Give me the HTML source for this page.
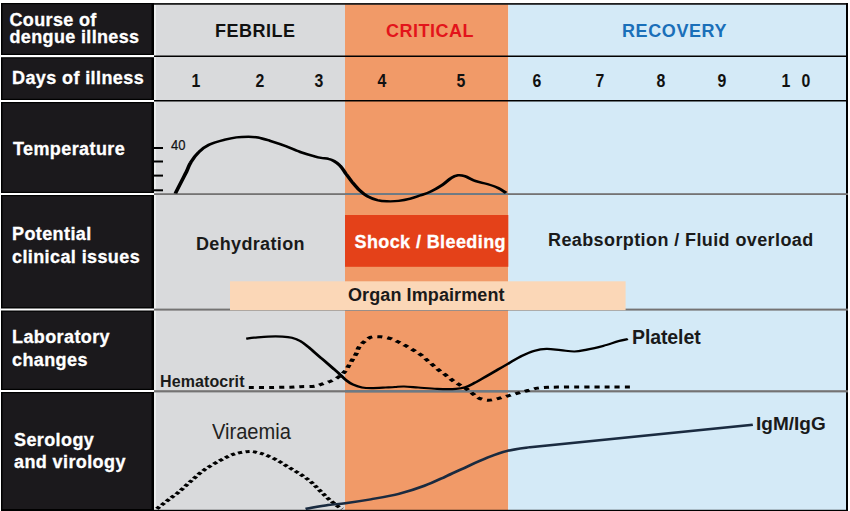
<!DOCTYPE html>
<html><head><meta charset="utf-8">
<style>
html,body{margin:0;padding:0;background:#fff;}
body{width:850px;height:511px;position:relative;overflow:hidden;font-family:"Liberation Sans",sans-serif;}
.a{position:absolute;white-space:nowrap;line-height:1;}
.lab{color:#fff;font-weight:bold;font-size:18px;letter-spacing:0.4px;-webkit-text-stroke:0.3px #fff;}
.hd{font-weight:bold;font-size:18px;letter-spacing:0.5px;}
.dg{font-weight:bold;font-size:18px;color:#111;width:40px;text-align:center;transform:scaleX(0.88);}
.bt{font-weight:bold;font-size:18px;color:#1a1a1a;letter-spacing:0.4px;}
svg{position:absolute;left:0;top:0;}
</style></head><body>
<svg width="850" height="511" viewBox="0 0 850 511">
  <!-- column backgrounds -->
  <rect x="154" y="3" width="191" height="508" fill="#d9dadc"/>
  <rect x="345" y="3" width="163.3" height="508" fill="#f19a68"/>
  <rect x="508.3" y="3" width="338" height="508" fill="#d4eaf7"/>
  <rect x="154" y="5" width="2" height="505" fill="#eceeee"/>
  <!-- left dark column -->
  <rect x="1" y="3" width="153" height="508" fill="#000"/>
  <rect x="2.5" y="4.2" width="149" height="49.6" fill="#1b191c"/>
  <rect x="2.5" y="58.4" width="149" height="40.4" fill="#1b191c"/>
  <rect x="2.5" y="103.2" width="149" height="88.6" fill="#1b191c"/>
  <rect x="2.5" y="196.2" width="149" height="111" fill="#1b191c"/>
  <rect x="2.5" y="311.7" width="149" height="77.1" fill="#1b191c"/>
  <rect x="2.5" y="393.2" width="149" height="115.8" fill="#1b191c"/>
  <rect x="1" y="55" width="153" height="2.2" fill="#fff"/>
  <rect x="1" y="100" width="153" height="2" fill="#fff"/>
  <rect x="1" y="193" width="153" height="2" fill="#fff"/>
  <rect x="1" y="308.5" width="153" height="2" fill="#fff"/>
  <rect x="1" y="390" width="153" height="2" fill="#fff"/>
  <!-- horizontal lines main -->
  <rect x="154" y="3" width="694" height="1.8" fill="#1e1e1e"/>
  <rect x="154" y="55.5" width="692" height="1.5" fill="#000"/>
  <rect x="154" y="100" width="692" height="1.5" fill="#000"/>
  <rect x="154" y="509.8" width="694" height="1.2" fill="#000"/>
  <rect x="846" y="3" width="2" height="508" fill="#000"/>
  <g id="gl">
  <rect x="154" y="193.2" width="694" height="1.8" fill="#747373"/>
  <rect x="154" y="308.6" width="694" height="2" fill="#747373"/>
  <rect x="154" y="390.2" width="694" height="2.2" fill="#747373"/>
  <rect x="345" y="193.2" width="163.3" height="1.8" fill="#6c7a86"/>
  <rect x="345" y="308.6" width="163.3" height="2" fill="#6c7a86"/>
  <rect x="345" y="390.2" width="163.3" height="2.2" fill="#6c7a86"/>
  </g>
  <!-- potential issues boxes -->
  <rect x="345" y="215" width="163.3" height="51.8" fill="#e44119"/>
  <rect x="230" y="281.3" width="395.6" height="28.9" fill="#fbd7b7"/>
  <!-- temperature ticks -->
  <rect x="154" y="147" width="9" height="2" fill="#000"/>
  <rect x="154" y="160.5" width="9" height="2" fill="#000"/>
  <rect x="154" y="174.6" width="9" height="2" fill="#000"/>
  <rect x="154" y="189.3" width="9" height="2" fill="#000"/>
  <!-- curves -->
<g transform="scale(1.57,1)" fill="none" stroke-linecap="butt" stroke-linejoin="round">
<path d="M111.7,193.5 C112.8,189.9 117.0,177.2 118.7,172.0 C120.3,166.8 120.1,165.7 121.5,162.4 C122.8,159.1 124.6,155.0 126.6,152.1 C128.5,149.2 130.3,146.9 133.1,144.8 C135.9,142.7 140.4,140.9 143.3,139.7 C146.2,138.5 148.1,137.9 150.6,137.4 C153.1,136.9 156.0,136.8 158.3,136.8 C160.6,136.8 162.0,136.8 164.3,137.5 C166.6,138.2 169.0,139.4 172.0,140.8 C174.9,142.2 178.8,144.2 182.2,146.2 C185.6,148.2 189.3,150.9 192.4,152.6 C195.4,154.3 198.2,155.4 200.3,156.3 C202.3,157.2 203.1,157.5 204.6,157.9 C206.1,158.3 207.9,158.4 209.2,158.9 C210.6,159.4 211.5,159.9 212.7,161.0 C213.9,162.1 215.2,163.3 216.4,165.4 C217.7,167.5 219.1,171.0 220.3,173.7 C221.6,176.4 222.6,178.7 224.0,181.5 C225.5,184.3 227.4,187.9 229.0,190.3 C230.7,192.8 232.1,194.6 234.0,196.2 C235.9,197.8 238.2,199.2 240.3,200.1 C242.3,200.9 244.2,201.2 246.4,201.3 C248.7,201.4 251.5,201.4 253.9,200.9 C256.4,200.4 259.1,199.5 261.4,198.6 C263.7,197.7 265.3,196.7 267.5,195.5 C269.7,194.3 272.3,193.2 274.6,191.4 C277.0,189.6 279.6,187.2 281.8,184.9 C283.9,182.7 285.8,179.5 287.5,177.9 C289.1,176.3 290.3,175.6 291.7,175.3 C293.1,175.0 294.1,175.2 296.0,176.2 C297.9,177.2 300.7,179.9 303.1,181.2 C305.5,182.5 307.9,182.9 310.3,184.0 C312.6,185.1 315.3,186.4 317.3,187.9 C319.3,189.4 321.5,192.1 322.4,192.9" stroke="#000" stroke-width="2.45"/>
<path d="M156.8,338.6 C157.6,338.5 159.5,338.0 161.8,337.7 C164.2,337.4 167.8,336.8 170.8,336.6 C173.8,336.4 177.4,336.4 179.9,336.6 C182.4,336.8 184.0,337.0 185.9,337.7 C187.7,338.4 189.5,339.5 191.2,341.0 C192.9,342.5 193.8,343.7 196.1,346.6 C198.3,349.5 202.2,354.9 205.0,358.6 C207.7,362.3 210.6,366.3 212.6,369.0 C214.6,371.7 215.5,372.9 216.8,374.8 C218.1,376.7 219.2,378.5 220.4,380.1 C221.7,381.7 222.9,383.2 224.6,384.4 C226.3,385.6 228.6,386.9 230.6,387.5 C232.6,388.1 234.1,388.1 236.6,388.1 C239.1,388.1 243.1,387.7 245.6,387.5 C248.1,387.3 249.6,387.2 251.6,387.0 C253.6,386.8 254.9,386.4 257.4,386.5 C259.9,386.6 262.9,387.1 266.4,387.5 C269.9,387.9 274.4,388.7 278.4,388.9 C282.4,389.1 287.4,389.2 290.4,388.9 C293.4,388.6 294.3,388.3 296.4,387.3 C298.4,386.3 300.2,384.6 302.5,382.7 C304.9,380.8 307.7,378.1 310.2,375.9 C312.7,373.7 315.0,371.5 317.3,369.4 C319.7,367.3 321.8,365.4 324.2,363.2 C326.6,361.0 329.2,358.3 331.8,356.3 C334.5,354.3 337.3,352.2 340.0,351.0 C342.7,349.8 345.2,349.0 348.1,348.9 C350.9,348.8 354.1,349.7 357.1,350.1 C360.0,350.5 363.0,351.6 365.9,351.5 C368.7,351.4 370.9,350.5 373.9,349.6 C377.0,348.7 380.7,347.3 384.1,345.9 C387.5,344.5 391.6,342.2 394.2,341.1 C396.8,340.0 399.0,339.4 399.9,339.0" stroke="#000" stroke-width="2.2"/>
<path d="M158.5,387.5 C160.7,387.5 167.6,387.6 172.0,387.5 C176.3,387.4 181.5,387.3 184.7,387.2 C187.9,387.1 188.4,386.9 191.1,386.7 C193.7,386.5 198.2,386.7 200.6,386.2 C203.0,385.7 203.6,384.8 205.4,383.9 C207.2,383.0 209.7,381.9 211.5,380.6 C213.3,379.4 214.9,378.0 216.2,376.4 C217.6,374.8 218.8,373.0 219.8,371.2 C220.8,369.4 221.4,367.5 222.2,365.5 C223.0,363.5 223.8,361.4 224.6,359.4 C225.4,357.4 226.3,355.5 227.0,353.5 C227.7,351.5 227.7,349.5 228.5,347.6 C229.3,345.7 230.5,343.6 231.8,341.9 C233.1,340.2 234.5,338.0 236.3,337.2 C238.1,336.4 240.5,336.6 242.6,336.8 C244.7,337.0 247.0,337.7 248.9,338.6 C250.9,339.5 252.5,341.1 254.3,342.4 C256.0,343.7 257.7,345.2 259.4,346.6 C261.0,348.0 262.7,349.4 264.2,350.9 C265.8,352.4 267.3,354.0 268.7,355.6 C270.1,357.2 271.3,359.1 272.5,360.8 C273.8,362.5 275.0,364.1 276.3,365.8 C277.6,367.5 278.8,369.4 280.2,371.0 C281.5,372.6 283.0,374.1 284.4,375.7 C285.7,377.3 287.0,378.9 288.3,380.4 C289.6,381.9 290.9,383.1 292.4,384.5 C293.8,385.9 295.6,387.3 297.1,388.9 C298.6,390.5 299.9,392.3 301.3,393.9 C302.7,395.5 303.8,397.3 305.4,398.4 C307.1,399.4 309.2,400.2 311.1,400.2 C313.1,400.2 315.1,399.3 317.2,398.6 C319.3,397.9 321.4,396.7 323.6,395.8 C325.7,394.9 327.8,394.1 329.9,393.2 C332.1,392.3 334.2,391.4 336.3,390.5 C338.4,389.6 340.3,388.6 342.4,388.1 C344.5,387.6 346.8,387.5 348.9,387.3 C351.1,387.1 352.5,387.2 355.4,387.1 C358.3,387.1 362.3,387.0 366.2,387.0 C370.2,387.0 375.1,386.9 379.0,386.9 C382.9,386.9 386.1,386.9 389.8,386.9 C393.5,386.9 399.4,386.9 401.3,386.9" stroke="#000" stroke-width="3" stroke-dasharray="3.22 3.22"/>
<path d="M99.9,508.8 C101.0,507.5 104.0,503.8 106.2,501.1 C108.4,498.4 110.7,496.0 113.2,492.8 C115.8,489.6 118.4,485.5 121.2,481.7 C124.0,477.9 126.8,473.5 130.1,469.9 C133.3,466.3 137.4,462.8 140.6,460.1 C143.9,457.4 146.5,455.3 149.5,453.9 C152.5,452.5 156.2,451.7 158.7,451.5 C161.1,451.3 162.6,452.2 164.4,452.8 C166.2,453.4 167.2,453.8 169.4,455.1 C171.5,456.4 174.7,458.7 177.2,460.8 C179.7,462.9 181.9,465.4 184.2,467.6 C186.5,469.8 188.9,471.8 191.2,474.1 C193.5,476.4 195.8,479.0 197.8,481.6 C199.8,484.2 201.3,486.9 203.1,489.6 C204.9,492.3 206.7,495.2 208.5,497.8 C210.4,500.4 212.7,503.4 214.3,505.2 C215.8,507.0 217.3,508.2 218.0,508.8" stroke="#000" stroke-width="2.9" stroke-dasharray="2.7 2.1"/>
<path d="M194.6,508.8 C197.0,508.2 204.8,505.9 209.0,505.0 C213.2,504.1 215.4,504.1 219.9,503.2 C224.4,502.3 230.4,500.9 236.1,499.4 C241.7,497.8 248.3,496.1 254.0,493.9 C259.7,491.6 265.2,488.8 270.1,485.9 C275.1,483.0 279.1,479.9 283.6,476.7 C288.1,473.5 292.6,470.1 297.1,466.9 C301.6,463.7 306.3,460.3 310.6,457.6 C315.0,454.9 318.8,452.6 323.2,450.9 C327.7,449.2 335.2,447.8 337.6,447.2 L479.5,424.8" stroke="#1a2b40" stroke-width="2.4"/>
</g>
</svg>

<!-- left labels -->
<div class="a lab" style="left:9.5px;top:11.5px;line-height:17.7px;letter-spacing:0.35px;">Course of<br>dengue illness</div>
<div class="a lab" style="left:12px;top:69px;">Days of illness</div>
<div class="a lab" style="left:13px;top:140px;">Temperature</div>
<div class="a lab" style="left:12px;top:223px;line-height:23px;">Potential<br>clinical issues</div>
<div class="a lab" style="left:12px;top:326px;line-height:22.5px;">Laboratory<br>changes</div>
<div class="a lab" style="left:14px;top:429px;line-height:22px;">Serology<br>and virology</div>

<!-- headers -->
<div class="a hd" style="left:215px;top:22px;color:#111;">FEBRILE</div>
<div class="a hd" style="left:386px;top:22px;color:#e3141b;">CRITICAL</div>
<div class="a hd" style="left:622px;top:22px;letter-spacing:0.6px;color:#1a6fb9;">RECOVERY</div>

<!-- days -->
<div class="a dg" style="left:176.3px;top:72px;">1</div>
<div class="a dg" style="left:240.0px;top:72px;">2</div>
<div class="a dg" style="left:299.3px;top:72px;">3</div>
<div class="a dg" style="left:362.2px;top:72px;">4</div>
<div class="a dg" style="left:441.0px;top:72px;">5</div>
<div class="a dg" style="left:517.0px;top:72px;">6</div>
<div class="a dg" style="left:579.5px;top:72px;">7</div>
<div class="a dg" style="left:640.6px;top:72px;">8</div>
<div class="a dg" style="left:702.0px;top:72px;">9</div>
<div class="a dg" style="left:766.3px;top:72px;">1</div>
<div class="a dg" style="left:785.5px;top:72px;">0</div>

<div class="a" style="left:170.5px;top:138px;font-size:14px;color:#111;transform:scaleX(0.93);transform-origin:left top;-webkit-text-stroke:0.2px #111;">40</div>

<div class="a bt" style="left:196px;top:235px;letter-spacing:0.35px;">Dehydration</div>
<div class="a bt" style="left:354.5px;top:233px;color:#fff;-webkit-text-stroke:0.3px #fff;">Shock / Bleeding</div>
<div class="a bt" style="left:548px;top:231px;">Reabsorption / Fluid overload</div>
<div class="a bt" style="left:348px;top:285.5px;letter-spacing:0.1px;">Organ Impairment</div>
<div class="a bt" style="left:632px;top:328px;font-size:19.5px;letter-spacing:-0.1px;">Platelet</div>
<div class="a bt" style="left:160px;top:373.5px;font-size:16px;letter-spacing:0.1px;">Hematocrit</div>
<div class="a" style="left:212px;top:421px;font-size:21.6px;color:#222;transform:scaleX(0.93);transform-origin:left top;">Viraemia</div>
<div class="a bt" style="left:756px;top:413.5px;font-size:19px;letter-spacing:0px;">IgM/IgG</div>
</body></html>
